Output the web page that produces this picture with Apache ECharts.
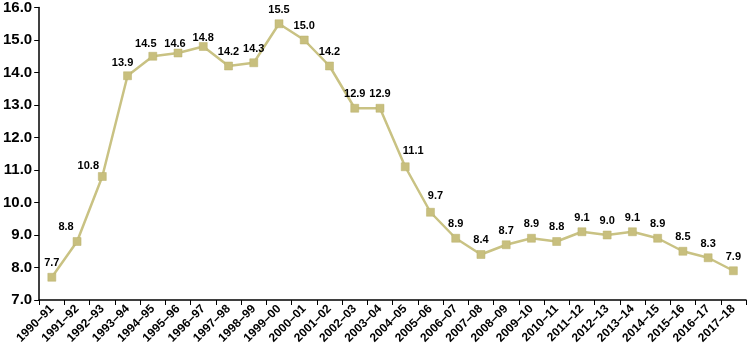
<!DOCTYPE html>
<html>
<head>
<meta charset="UTF-8">
<script src="https://cdn.jsdelivr.net/npm/echarts/dist/echarts.min.js"></script>
<style>
  body { margin: 0; padding: 0; background: white; }
  #chart { width: 750px; height: 353px; }
</style>
</head>
<body>
<div id="chart"></div>
<script>
  const years = ['1990–91', '1991–92', '1992–93', '1993–94', '1994–95', '1995–96', '1996–97',
    '1997–98', '1998–99', '1999–00', '2000–01', '2001–02', '2002–03', '2003–04', '2004–05',
    '2005–06', '2006–07', '2007–08', '2008–09', '2009–10', '2010–11', '2011–12', '2012–13',
    '2013–14', '2014–15', '2015–16', '2016–17', '2017–18'];
  const values = [7.7, 8.8, 10.8, 13.9, 14.5, 14.6, 14.8, 14.2, 14.3, 15.5, 15.0, 14.2, 12.9, 12.9,
    11.1, 9.7, 8.9, 8.4, 8.7, 8.9, 8.8, 9.1, 9.0, 9.1, 8.9, 8.5, 8.3, 7.9];

  // hand-placed labels in the original (index -> [dx, dy] nudge)
  const labelNudge = { 1: [-11, 0], 2: [-14, 4], 3: [-5, 1], 4: [-7, 2], 5: [-3, 5], 6: [0, 6], 14: [8, -2], 15: [5, -2] };

  const seriesData = values.map((v, i) => labelNudge[i]
    ? { value: v, label: { offset: labelNudge[i] } }
    : v);

  const chart = echarts.init(document.getElementById('chart'));
  chart.setOption({
    animation: false,
    grid: { left: 39, right: 4, top: 7, bottom: 53 },
    xAxis: {
      type: 'category',
      data: years,
      axisLine: { lineStyle: { color: '#000', width: 1.5 } },
      axisTick: { show: true, length: 5, lineStyle: { color: '#000' } },
      axisLabel: {
        interval: 0, rotate: 45, color: '#000', fontWeight: 'bold',
        fontFamily: 'Liberation Sans, Arial, sans-serif', fontSize: 12, margin: 7
      }
    },
    yAxis: {
      type: 'value', min: 7, max: 16, interval: 1,
      splitLine: { show: false },
      axisLine: { show: true, lineStyle: { color: '#000', width: 1.5 } },
      axisTick: { show: true, length: 5, lineStyle: { color: '#000' } },
      axisLabel: {
        color: '#000', fontWeight: 'bold', fontSize: 15,
        fontFamily: 'Liberation Sans, Arial, sans-serif', margin: 7,
        formatter: v => v.toFixed(1)
      }
    },
    series: [{
      type: 'line',
      data: seriesData,
      symbol: 'rect',
      symbolSize: 8,
      lineStyle: { color: '#c9c283', width: 2.5 },
      itemStyle: { color: '#c8bf7e', borderColor: '#b9b06c', borderWidth: 0.5 },
      label: {
        show: true, position: 'top', distance: 4.5, color: '#000', fontWeight: 'bold',
        fontSize: 11, fontFamily: 'Liberation Sans, Arial, sans-serif',
        formatter: p => p.value.toFixed(1)
      }
    }]
  });
</script>
</body>
</html>
